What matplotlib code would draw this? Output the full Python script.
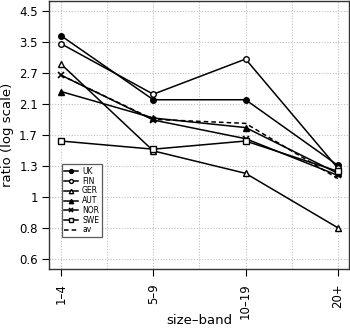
import matplotlib
matplotlib.use("Agg")
import matplotlib.pyplot as plt
import numpy as np

# size bands on the x axis
bands = ["1\u20134", "5\u20139", "10\u201319", "20+"]

# ratio per country (log-scaled y axis)
uk = [3.67, 2.19, 2.19, 1.29]
fin = [3.44, 2.29, 3.04, 1.26]
ger = [2.92, 1.45, 1.21, 0.78]
aut = [2.34, 1.89, 1.75, 1.21]
nor = [2.67, 1.86, 1.60, 1.19]
swe = [1.57, 1.47, 1.57, 1.23]
av = [2.67, 1.87, 1.81, 1.16]

countries = ["UK", "FIN", "GER", "AUT", "NOR", "SWE"]
series = [uk, fin, ger, aut, nor, swe]
markers = [
    dict(marker="o", mfc="black", ms=4, mew=1.0),
    dict(marker="o", mfc="white", ms=4, mew=1.0),
    dict(marker="^", mfc="white", ms=4.5, mew=1.0),
    dict(marker="^", mfc="black", ms=4.5, mew=1.0),
    dict(marker="x", mfc="black", ms=4, mew=1.2),
    dict(marker="s", mfc="white", ms=4, mew=1.0),
]

# y ticks sit at exp(0.25*k); labels are rounded to one decimal
tick_vals = np.exp(np.arange(-2, 7) * 0.25)
tick_labels = ["0.6", "0.8", "1", "1.3", "1.7", "2.1", "2.7", "3.5", "4.5"]

fig = plt.figure(figsize=(3.5, 3.32), dpi=100)
ax = fig.add_axes([0.14, 0.19, 0.857, 0.807])

x = np.arange(1, len(bands) + 1)

for name, vals, mk in zip(countries, series, markers):
    ax.plot(x, vals, color="black", lw=1.1, mec="black", label=name, **mk)
ax.plot(x, av, color="black", lw=1.1, ls=(0, (3, 2)), label="av")

ax.set_yscale("log")
ax.set_ylim(np.exp(-0.58), np.exp(1.58))
ax.set_xlim(0.87, 4.12)
ax.set_yticks(tick_vals)
ax.set_yticklabels(tick_labels)
ax.yaxis.set_minor_locator(matplotlib.ticker.NullLocator())
ax.set_xticks(x)
ax.set_xticklabels(bands, rotation=90)
ax.set_xticks(np.arange(1.5, 4, 1), minor=True)

ax.grid(True, which="major", color="#c0c0c0", ls=(0, (1, 1.5)), lw=0.8)
ax.grid(True, which="minor", axis="x", color="#c0c0c0", ls=(0, (1, 1.5)), lw=0.8)
ax.tick_params(which="minor", length=0)
ax.tick_params(which="major", length=5, width=0.8, labelsize=8.5, pad=3)
ax.tick_params(axis="x", pad=5)
ax.set_axisbelow(True)

for s in ax.spines.values():
    s.set_color("#333333")
    s.set_linewidth(1.0)

ax.set_ylabel("ratio (log scale)", fontsize=9.5, labelpad=4)
# x label sits close to the bottom edge, as in the original
fig.text(0.5685, 0.035, "size\u2013band", fontsize=9.5, ha="center", va="center")

leg = ax.legend(loc="upper left", bbox_to_anchor=(0.03, 0.405), fontsize=5.5,
                frameon=True, fancybox=False, edgecolor="#333333",
                handlelength=1.8, handletextpad=0.5, labelspacing=0.1,
                borderpad=0.35, markerscale=0.7)
leg.get_frame().set_linewidth(0.9)

fig.savefig("out.png", dpi=100)
